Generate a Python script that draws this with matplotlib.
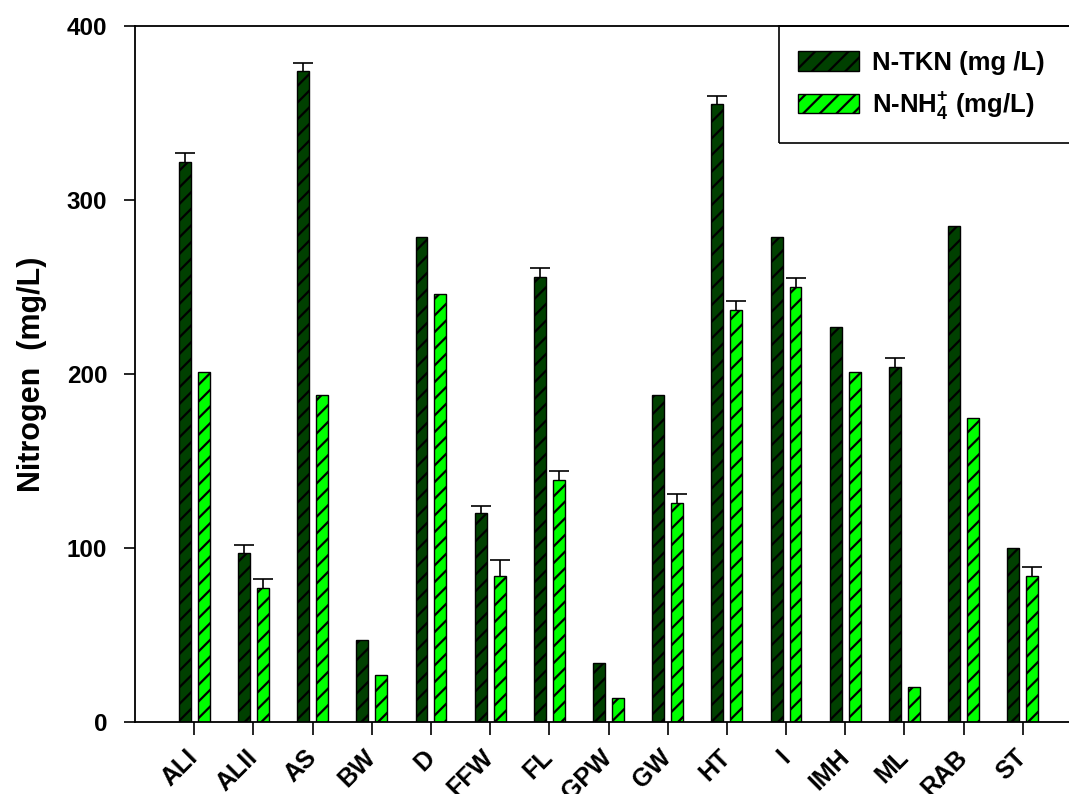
import numpy as np
import matplotlib
matplotlib.use('Agg')
import matplotlib.pyplot as plt
from matplotlib.patches import Rectangle

plt.rcParams['font.family'] = ['Liberation Sans', 'DejaVu Sans']
plt.rcParams['font.weight'] = 'bold'
plt.rcParams['mathtext.fontset'] = 'custom'
plt.rcParams['mathtext.rm'] = 'Liberation Sans:bold'
plt.rcParams['mathtext.bf'] = 'Liberation Sans:bold'
plt.rcParams['hatch.linewidth'] = 1.6

# sample codes and nitrogen content (mg/L)
samples = ['ALI', 'ALII', 'AS', 'BW', 'D', 'FFW', 'FL', 'GPW', 'GW',
           'HT', 'I', 'IMH', 'ML', 'RAB', 'ST']
tkn = [322, 97, 374, 47, 279, 120, 256, 34, 188, 355, 279, 227, 204, 285, 100]
tkn_err = [5, 5, 5, 0, 0, 4, 5, 0, 0, 5, 0, 0, 5, 0, 0]
nh4 = [201, 77, 188, 27, 246, 84, 139, 14, 126, 237, 250, 201, 20, 175, 84]
nh4_err = [0, 5, 0, 0, 0, 9, 5, 0, 5, 5, 5, 0, 0, 0, 5]

W, H = 1069, 794
fig = plt.figure(figsize=(W/100, H/100), dpi=100)
ax = fig.add_axes([135/W, 72/H, 947/W, 696/H])

x = np.arange(len(samples))
off = 0.16
wd = 0.2
ax.bar(x - off, tkn, wd, color='#004000', edgecolor='black',
       linewidth=1.0, hatch='//', label='N-TKN (mg /L)')
ax.bar(x + off, nh4, wd, color='#00ff00', edgecolor='black',
       linewidth=1.0, hatch='//',
       label=r'N-NH$_\mathbf{4}^\mathbf{+}$ (mg/L)')

# upper error bars only where there is a spread
def up_err(xs, vals, errs):
    xs = np.asarray(xs); vals = np.asarray(vals); errs = np.asarray(errs)
    m = errs > 0
    eb = ax.errorbar(xs[m], vals[m], yerr=[np.zeros(m.sum()), errs[m]],
                     fmt='none', ecolor='black', elinewidth=1.2, capsize=7,
                     capthick=1.2)
    eb[1][0].set_visible(False)   # no cap on the bar top

up_err(x - off, tkn, tkn_err)
up_err(x + off, nh4, nh4_err)

ax.set_xlim(-1, 15)
ax.set_ylim(0, 400)
ax.set_yticks([0, 100, 200, 300, 400])
ax.set_xticks(x)
ax.set_xticklabels(samples, rotation=45, ha='right', va='center',
                   rotation_mode='anchor', fontsize=18, fontweight='bold')
ax.tick_params(axis='x', length=9, width=1.2, pad=14)
ax.tick_params(axis='y', length=8, width=1.2, pad=12, labelsize=17.5)
for lab in ax.get_yticklabels():
    lab.set_fontweight('bold')
for s in ax.spines.values():
    s.set_linewidth(1.3)

ax.set_ylabel('Nitrogen  (mg/L)', fontsize=22, fontweight='bold', labelpad=14)

leg = ax.legend(loc='upper left', bbox_to_anchor=(798/W, 1 - 51/H),
                bbox_transform=fig.transFigure, frameon=False,
                borderpad=0, borderaxespad=0, fontsize=18.5,
                handlelength=2.37, handleheight=0.78, handletextpad=0.5,
                labelspacing=0.55)
for t in leg.get_texts():
    t.set_fontweight('bold')

fig.patches.append(Rectangle((779/W, 1 - 143/H), 0.3, 117/H,
                             transform=fig.transFigure, fill=False,
                             edgecolor='black', linewidth=1.2))

plt.savefig('out.png', dpi=100)
